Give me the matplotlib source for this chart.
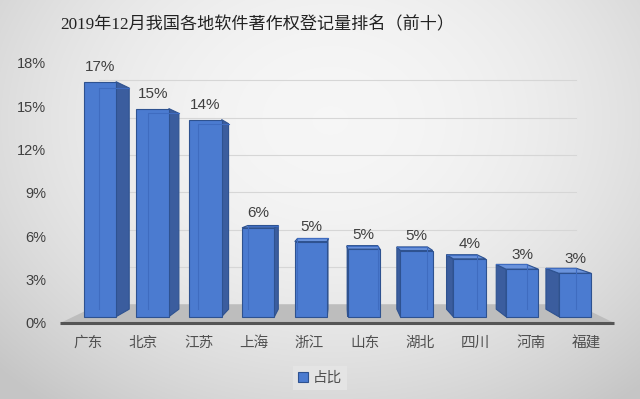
import numpy as np
import matplotlib.pyplot as plt
from matplotlib.patches import Polygon, Patch

plt.rcParams['font.family'] = ['Liberation Sans', 'Noto Sans CJK SC', 'DejaVu Sans']

# data (percent)
regions = ['广东', '北京', '江苏', '上海', '浙江', '山东', '湖北', '四川', '河南', '福建']
share = [17.05, 15.1, 14.3, 6.45, 5.45, 4.9, 4.8, 4.2, 3.45, 3.15]
yticks = [0, 3, 6, 9, 12, 15, 18]
title = '2019年12月我国各地软件著作权登记量排名（前十）'
legend_label = '占比'

# fake 3D: one point perspective, depth 0 = front edge of floor
VX, VY = 4.55, 9.27
D_FRONT, D_BACK, D_WALL = 0.047, 0.103, 0.14
HALF_W = 0.307

FRONT = '#4b7bd0'
SIDE = '#3b5d9e'
TOP = '#6a93dc'
EDGE = '#2e5290'


def proj(x, y, d):
    return (x + d * (VX - x), y + d * (VY - y))


fig = plt.figure(figsize=(6.4, 3.99), dpi=100)

# background gradient
bg = fig.add_axes([0, 0, 1, 1], zorder=-10)
yy, xx = np.mgrid[0:399, 0:640]
r = ((xx - 330) / 420.0) ** 2 + ((yy - 120) / 330.0) ** 2
g = 0.965 - 0.16 * np.clip(r, 0, 1.2)
bg.imshow(np.dstack([g, g, g]), aspect='auto', extent=[0, 1, 0, 1], origin='upper')
bg.set_axis_off()

ax = fig.add_axes([0.0942, 0.1905, 0.8656, 0.6524])
ax.patch.set_alpha(0)
ax.set_xlim(-0.5, 9.5)
ax.set_ylim(0, 18)
for s in ax.spines.values():
    s.set_visible(False)

# back wall gridlines
for v in yticks[1:]:
    p0 = proj(-0.5, v, D_WALL)
    p1 = proj(9.5, v, D_WALL)
    ax.plot([p0[0], p1[0]], [p0[1], p1[1]], color='#d6d6d6', lw=0.8, zorder=1, clip_on=False)

# floor
floor = [proj(-0.5, 0, 0), proj(9.5, 0, 0), proj(9.5, 0, D_WALL), proj(-0.5, 0, D_WALL)]
ax.add_patch(Polygon(floor, closed=True, fc='#bdbdbd', ec='none', zorder=2, clip_on=False))
ax.plot([-0.5, 9.5], [0, 0], color='#555555', lw=2.2, zorder=3, clip_on=False, solid_capstyle='butt')

x = np.arange(len(regions))
for i, v in enumerate(share):
    xl, xr = i - HALF_W, i + HALF_W
    # side face
    if xr < VX:
        side = [proj(xr, 0, D_FRONT), proj(xr, v, D_FRONT), proj(xr, v, D_BACK), proj(xr, 0, D_BACK)]
    else:
        side = [proj(xl, 0, D_FRONT), proj(xl, v, D_FRONT), proj(xl, v, D_BACK), proj(xl, 0, D_BACK)]
    ax.add_patch(Polygon(side, closed=True, fc=SIDE, ec=EDGE, lw=0.8, zorder=4, clip_on=False))
    # top face (only seen when below eye level)
    if v < VY:
        top = [proj(xl, v, D_FRONT), proj(xr, v, D_FRONT), proj(xr, v, D_BACK), proj(xl, v, D_BACK)]
        ax.add_patch(Polygon(top, closed=True, fc=TOP, ec=EDGE, lw=0.8, zorder=4, clip_on=False))

# front faces
cx = x + D_FRONT * (VX - x)
ax.bar(cx, np.array(share) * (1 - D_FRONT), width=2 * HALF_W * (1 - D_FRONT),
       bottom=D_FRONT * VY, color=FRONT, edgecolor=EDGE, linewidth=0.8, zorder=5)

# hidden back edges seen through the face
for i, v in enumerate(share):
    xl, xr = i - HALF_W, i + HALF_W
    bl, tl = proj(xl, 0, D_BACK), proj(xl, v, D_BACK)
    br, tr = proj(xr, 0, D_BACK), proj(xr, v, D_BACK)
    if xr < VX:
        pts = [bl, tl, tr]
    else:
        pts = [tl, tr, br]
    ax.plot([p[0] for p in pts], [p[1] for p in pts], color='#3f6cc0', lw=0.8, zorder=6, clip_on=False)
    ftop = proj(i, v, D_FRONT)
    ax.annotate(f'{round(v)}%', ftop, xytext=(0, 10.5), textcoords='offset points',
                ha='center', va='center', fontsize=11, color='#404040', zorder=7)

ax.set_xticks(x)
ax.set_xticklabels(regions, fontsize=10.5, color='#505050')
ax.set_yticks(yticks)
ax.set_yticklabels([f'{t}%' for t in yticks], fontsize=10.5, color='#404040')
ax.tick_params(axis='x', length=0, pad=9.5)
ax.tick_params(axis='y', length=0, pad=10)

fig.text(0.402, 0.937, title, ha='center', va='center', fontsize=12.3, color='#222222',
         family=['Liberation Serif', 'Noto Sans CJK SC'])

fig.legend(handles=[Patch(fc=FRONT, ec=EDGE, lw=0.8)], labels=[legend_label],
           loc='center', bbox_to_anchor=(0.5, 0.053), fontsize=10.5, labelcolor='#505050',
           frameon=True, facecolor='#e4e4e4', edgecolor='none', fancybox=False, framealpha=1,
           handlelength=0.7, handleheight=0.7, handletextpad=0.3, borderpad=0.35)

fig.savefig('out.png', dpi=100)
